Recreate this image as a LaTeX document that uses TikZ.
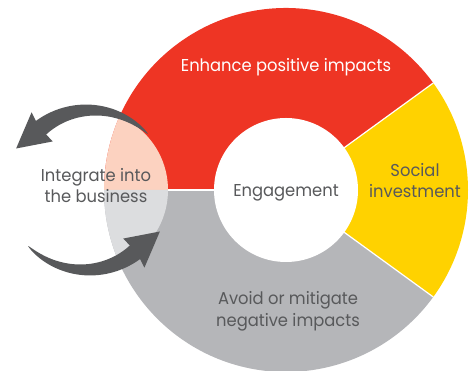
\documentclass[tikz,border=0pt]{standalone}
\usepackage{fontspec}
\setmainfont{Poppins}[FakeStretch=0.95]
\definecolor{segred}{HTML}{EE3524}
\definecolor{segyel}{HTML}{FFD200}
\definecolor{seggrey}{HTML}{B5B6B9}
\definecolor{pinkov}{HTML}{FCD2C0}
\definecolor{lgov}{HTML}{DCDDDF}
\definecolor{darkc}{HTML}{58595B}
\tikzset{
  lbl/.style={anchor=base, inner sep=0pt, text=darkc, font=\fontsize{17.2}{20}\selectfont},
  arrowshape/.pic={
    \fill[darkc] plot[domain=43.2:127, samples=50] (\x:{82-4*((\x-43)/84) + 8.5*((\x-43)/84)^0.7})
      -- (126:96) -- (150:83) -- (126:60) --
      plot[domain=127:43.2, samples=50] (\x:{82-4*((\x-43)/84) - 8.5*((\x-43)/84)^0.7}) -- cycle;
  }
}
\begin{document}
\begin{tikzpicture}[x=1pt,y=1pt]
\useasboundingbox (0,0) rectangle (474,371);
\coordinate (C) at (286,181);
\coordinate (L) at (88,181);
% segments
\fill[segred] (C) -- ++(36:182) arc[start angle=36,end angle=180,radius=182] -- cycle;
\fill[segyel] (C) -- ++(-36:182) arc[start angle=-36,end angle=36,radius=182] -- cycle;
\fill[seggrey] (C) -- ++(180:182) arc[start angle=180,end angle=324,radius=182] -- cycle;
% separators
\foreach \a in {36,-36,180} \draw[white, line width=1.2pt] (C) -- ++(\a:182);
% overlay of the left circle
\begin{scope}
  \clip (C) circle[radius=182];
  \fill[pinkov] (L) ++(0:80) arc[start angle=0,end angle=180,radius=80] -- cycle;
  \fill[lgov] (L) ++(180:80) arc[start angle=180,end angle=360,radius=80] -- cycle;
\end{scope}
% inner circle
\fill[white] (C) circle[radius=72];
% arrows
\pic[shift={(L)}] {arrowshape};
\pic[shift={(L)}, rotate=180] {arrowshape};
% labels
\node[lbl, text=white] (enh) at (286,299) {Enhance positive impacts};
\node[lbl] (eng) at (286,174) {Engagement};
\node[lbl] (soc1) at (415,194) {Social};
\node[lbl] (soc2) at (415,173) {investment};
\node[lbl] (av1) at (288,66) {Avoid or mitigate};
\node[lbl] (av2) at (288,44) {negative impacts};
\node[lbl] (int1) at (96,189) {Integrate into};
\node[lbl] (int2) at (96,168) {the business};
\end{tikzpicture}
\end{document}
